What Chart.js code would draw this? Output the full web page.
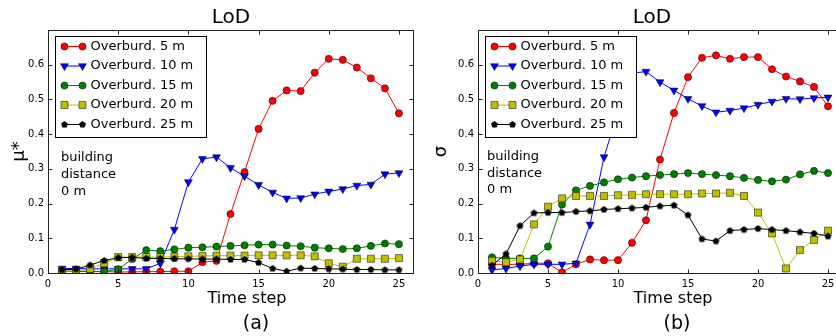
<!DOCTYPE html>
<html>
<head>
<meta charset="utf-8">
<script src="https://cdn.jsdelivr.net/npm/chart.js@4.4.0/dist/chart.umd.min.js"></script>
<style>
html, body { margin: 0; padding: 0; background: #fff; overflow: hidden; width: 836px; height: 336px; }
.panel { position: absolute; top: 0; height: 336px; }
#panelA { left: 0; width: 420px; }
#panelB { left: 420px; width: 430px; }
</style>
</head>
<body>
<div class="panel" id="panelA"><canvas id="chartA" width="420" height="336"></canvas></div>
<div class="panel" id="panelB"><canvas id="chartB" width="430" height="336"></canvas></div>
<script>
// data
var timeSteps = [1, 2, 3, 4, 5, 6, 7, 8, 9, 10, 11, 12, 13, 14, 15, 16, 17, 18, 19, 20, 21, 22, 23, 24, 25];
var xTickVals = [0, 5, 10, 15, 20, 25];
var yTickVals = [0, 0.1, 0.2, 0.3, 0.4, 0.5, 0.6];
var seriesNames = ["Overburd. 5 m", "Overburd. 10 m", "Overburd. 15 m", "Overburd. 20 m", "Overburd. 25 m"];

// (a) mu*
var mu5  = [0.005, 0.005, 0.004, 0.004, 0.003, 0.003, 0.004, 0.004, 0.005, 0.005, 0.031, 0.035, 0.170, 0.291, 0.415, 0.496, 0.526, 0.524, 0.577, 0.617, 0.614, 0.592, 0.561, 0.532, 0.460];
var mu10 = [0.013, 0.013, 0.012, 0.012, 0.012, 0.012, 0.012, 0.028, 0.125, 0.262, 0.329, 0.334, 0.303, 0.279, 0.254, 0.232, 0.215, 0.216, 0.227, 0.235, 0.242, 0.252, 0.255, 0.285, 0.288];
var mu15 = [0.005, 0.005, 0.005, 0.004, 0.011, 0.040, 0.066, 0.063, 0.068, 0.073, 0.074, 0.076, 0.078, 0.080, 0.082, 0.082, 0.079, 0.077, 0.073, 0.071, 0.069, 0.071, 0.078, 0.085, 0.083];
var mu20 = [0.005, 0.006, 0.012, 0.028, 0.046, 0.046, 0.046, 0.046, 0.047, 0.048, 0.049, 0.050, 0.050, 0.050, 0.051, 0.051, 0.051, 0.051, 0.048, 0.028, 0.018, 0.041, 0.041, 0.041, 0.043];
var mu25 = [0.009, 0.011, 0.023, 0.036, 0.044, 0.045, 0.042, 0.042, 0.041, 0.041, 0.040, 0.040, 0.039, 0.039, 0.030, 0.013, 0.005, 0.014, 0.013, 0.012, 0.011, 0.010, 0.010, 0.009, 0.009];

// (b) sigma
var sig5  = [0.025, 0.025, 0.025, 0.028, 0.028, 0.002, 0.025, 0.039, 0.037, 0.037, 0.087, 0.152, 0.327, 0.461, 0.564, 0.620, 0.627, 0.617, 0.622, 0.622, 0.587, 0.566, 0.552, 0.536, 0.480];
var sig10 = [0.009, 0.013, 0.020, 0.025, 0.025, 0.025, 0.028, 0.140, 0.334, 0.465, 0.576, 0.580, 0.550, 0.526, 0.502, 0.481, 0.463, 0.468, 0.475, 0.485, 0.494, 0.502, 0.501, 0.504, 0.506];
var sig15 = [0.045, 0.042, 0.042, 0.042, 0.076, 0.197, 0.238, 0.251, 0.261, 0.270, 0.275, 0.279, 0.282, 0.285, 0.288, 0.285, 0.282, 0.279, 0.274, 0.268, 0.264, 0.269, 0.284, 0.294, 0.288];
var sig20 = [0.035, 0.031, 0.039, 0.140, 0.191, 0.215, 0.222, 0.222, 0.222, 0.224, 0.225, 0.227, 0.227, 0.227, 0.227, 0.229, 0.229, 0.231, 0.222, 0.174, 0.114, 0.013, 0.066, 0.095, 0.122];
var sig25 = [0.022, 0.055, 0.136, 0.173, 0.174, 0.174, 0.177, 0.179, 0.183, 0.185, 0.187, 0.189, 0.193, 0.195, 0.167, 0.098, 0.092, 0.122, 0.125, 0.128, 0.125, 0.122, 0.118, 0.114, 0.106];

var FONT = "'DejaVu Sans', sans-serif";

function pentagon(r) {
  var s = 9;
  var c = document.createElement('canvas');
  c.width = s; c.height = s;
  var g = c.getContext('2d');
  g.beginPath();
  for (var i = 0; i < 5; i++) {
    var a = -Math.PI / 2 + i * 2 * Math.PI / 5;
    var px = s / 2 + r * Math.cos(a), py = s / 2 + r * Math.sin(a);
    if (i) g.lineTo(px, py); else g.moveTo(px, py);
  }
  g.closePath();
  g.fillStyle = '#000';
  g.fill();
  return c;
}

var styles = [
  { color: '#ff0000', fill: '#ff0000', marker: 'circle', radius: 3.6, rot: 0 },
  { color: '#0000ff', fill: '#0000ff', marker: 'triangle', radius: 4.6, rot: 180 },
  { color: '#008000', fill: '#008000', marker: 'circle', radius: 3.6, rot: 0 },
  { color: '#bfbf00', fill: '#bfbf00', marker: 'rect', radius: 5, rot: 0 },
  { color: '#000000', fill: '#000000', marker: pentagon(3.6), radius: 4, rot: 0 }
];

function makeSets(lists) {
  return lists.map(function(vals, i) {
    var st = styles[i];
    return {
      label: seriesNames[i],
      data: timeSteps.map(function(t, j) { return { x: t, y: vals[j] }; }),
      borderColor: st.color,
      borderWidth: 1,
      pointStyle: st.marker,
      pointRadius: st.radius,
      pointRotation: st.rot,
      pointBackgroundColor: st.fill,
      pointBorderColor: '#000',
      pointBorderWidth: 0.5,
      tension: 0,
      fill: false,
      order: 4 - i
    };
  });
}

function drawMarker(ctx, st, x, y) {
  ctx.save();
  ctx.fillStyle = st.fill;
  ctx.strokeStyle = '#000';
  ctx.lineWidth = 0.5;
  var r = st.radius;
  if (st.marker === 'circle') {
    ctx.beginPath(); ctx.arc(x, y, r, 0, Math.PI * 2); ctx.fill(); ctx.stroke();
  } else if (st.marker === 'triangle') {
    ctx.beginPath();
    ctx.moveTo(x, y + r);
    ctx.lineTo(x - r * 0.866, y - r / 2);
    ctx.lineTo(x + r * 0.866, y - r / 2);
    ctx.closePath(); ctx.fill(); ctx.stroke();
  } else if (st.marker === 'rect') {
    var h = r * Math.SQRT1_2;
    ctx.beginPath(); ctx.rect(x - h, y - h, 2 * h, 2 * h); ctx.fill(); ctx.stroke();
  } else {
    ctx.drawImage(st.marker, x - st.marker.width / 2, y - st.marker.height / 2);
  }
  ctx.restore();
}

// frame, inward ticks, legend, note and texts
function panelPlugin(p) {
  return {
    id: 'panel',
    afterDatasetsDraw: function(chart) {
      var ctx = chart.ctx, a = chart.chartArea;
      var L = Math.round(a.left) + 0.5, R = Math.round(a.right) + 0.5;
      var T = Math.round(a.top) + 0.5, B = Math.round(a.bottom) + 0.5;
      ctx.save();
      ctx.strokeStyle = '#222';
      ctx.lineWidth = 1;
      ctx.beginPath();
      xTickVals.forEach(function(v) {
        var px = Math.round(chart.scales.x.getPixelForValue(v)) + 0.5;
        ctx.moveTo(px, B); ctx.lineTo(px, B - 4);
        ctx.moveTo(px, T); ctx.lineTo(px, T + 4);
      });
      yTickVals.forEach(function(v) {
        var py = Math.round(chart.scales.y.getPixelForValue(v)) + 0.5;
        ctx.moveTo(L, py); ctx.lineTo(L + 4, py);
        ctx.moveTo(R, py); ctx.lineTo(R - 4, py);
      });
      ctx.stroke();
      ctx.strokeRect(L, T, R - L, B - T);
      ctx.restore();
    },
    afterDraw: function(chart) {
      var ctx = chart.ctx, a = chart.chartArea;
      ctx.save();
      // legend
      var bx = Math.round(a.left) + 7.5, by = Math.round(a.top) + 6.5;
      ctx.fillStyle = '#fff';
      ctx.fillRect(bx, by, 151, 101);
      ctx.strokeStyle = '#000';
      ctx.lineWidth = 1;
      ctx.strokeRect(bx, by, 151, 101);
      ctx.font = '13px ' + FONT;
      ctx.textBaseline = 'middle';
      ctx.textAlign = 'left';
      seriesNames.forEach(function(name, i) {
        var st = styles[i];
        var ry = by + 10 + i * 19.5;
        ctx.strokeStyle = st.color;
        ctx.lineWidth = 1;
        ctx.beginPath(); ctx.moveTo(bx + 9, ry); ctx.lineTo(bx + 27, ry); ctx.stroke();
        drawMarker(ctx, st, bx + 9, ry);
        drawMarker(ctx, st, bx + 27, ry);
        ctx.fillStyle = '#000';
        ctx.fillText(name, bx + 35, ry);
      });
      // note
      ctx.fillStyle = '#000';
      p.note.forEach(function(line, i) {
        ctx.fillText(line, a.left + p.noteDx, p.noteY + i * p.noteStep);
      });
      // title, x label, panel tag
      ctx.textAlign = 'center';
      ctx.textBaseline = 'alphabetic';
      ctx.font = '20px ' + FONT;
      ctx.fillText(p.title, p.titleX, 23);
      ctx.font = '16px ' + FONT;
      ctx.fillText(p.xlabel, p.xlabelX, 303);
      ctx.font = '19px ' + FONT;
      ctx.fillText(p.tag, p.tagX, 329);
      ctx.restore();
    }
  };
}

function makeChart(id, lists, yTitle, yWidth, yTitlePad, p) {
  return new Chart(document.getElementById(id), {
    type: 'line',
    data: { datasets: makeSets(lists) },
    options: {
      responsive: false,
      animation: false,
      events: [],
      layout: { padding: { top: 30, bottom: 0, left: 0, right: p.padRight } },
      plugins: { legend: { display: false }, tooltip: { enabled: false }, title: { display: false } },
      scales: {
        x: {
          type: 'linear', min: 0, max: 26,
          grid: { display: false, drawTicks: false },
          border: { display: false },
          ticks: { font: { family: FONT, size: 10 }, color: '#000', padding: 5, maxRotation: 0, autoSkip: false,
                   callback: function(v) { return String(v); } },
          afterBuildTicks: function(s) { s.ticks = xTickVals.map(function(v) { return { value: v }; }); },
          afterFit: function(s) { s.height = 63; }
        },
        y: {
          type: 'linear', min: 0, max: 0.7,
          grid: { display: false, drawTicks: false },
          border: { display: false },
          ticks: { font: { family: FONT, size: 10 }, color: '#000', padding: 4,
                   callback: function(v) { return Number(v).toFixed(1); } },
          afterBuildTicks: function(s) { s.ticks = yTickVals.map(function(v) { return { value: v }; }); },
          afterFit: function(s) { s.width = yWidth; },
          title: { display: true, text: yTitle, color: '#000', font: { family: FONT, size: 18 },
                   padding: { top: yTitlePad, bottom: 0 } }
        }
      }
    },
    plugins: [panelPlugin(p)]
  });
}

makeChart('chartA', [mu5, mu10, mu15, mu20, mu25], 'μ*', 48, 9, {
  padRight: 7, title: 'LoD', titleX: 231, xlabel: 'Time step', xlabelX: 247, tag: '(a)', tagX: 256,
  note: ['building', 'distance', '0 m'], noteDx: 13, noteY: 158, noteStep: 17
});
makeChart('chartB', [sig5, sig10, sig15, sig20, sig25], 'σ', 58, 11, {
  padRight: 8, title: 'LoD', titleX: 232, xlabel: 'Time step', xlabelX: 253, tag: '(b)', tagX: 257,
  note: ['building', 'distance', '0 m'], noteDx: 9, noteY: 157, noteStep: 16.5
});
</script>
</body>
</html>
